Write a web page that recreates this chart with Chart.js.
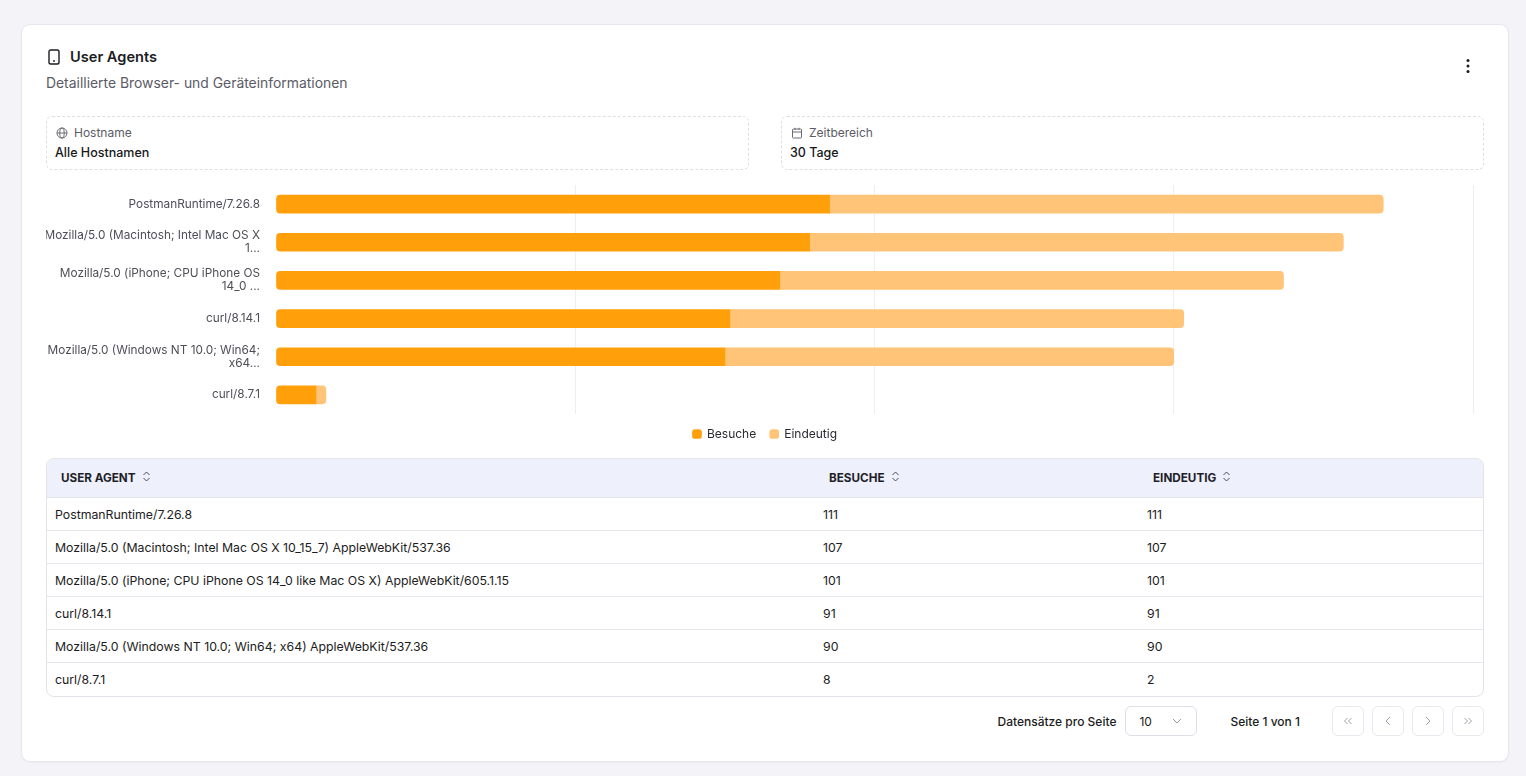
<!DOCTYPE html>
<html lang="de">
<head>
<meta charset="utf-8">
<title>User Agents</title>
<script src="https://cdn.jsdelivr.net/npm/chart.js@4.4.1/dist/chart.umd.min.js"></script>
<style>
  * { box-sizing: border-box; }
  html, body { margin: 0; padding: 0; }
  body {
    width: 1526px; height: 776px; overflow: hidden;
    background: #f4f4f8;
    font-family: Inter, "Noto Sans", sans-serif;
    color: #1c1c22;
  }
  .card {
    position: absolute; left: 22px; top: 25px; width: 1486px; height: 736px;
    background: #fff; border-radius: 8px;
    box-shadow: 0 0 0 1px #e6e6ee, 0 1px 3px rgba(20,20,40,0.06);
  }
  .abs { position: absolute; }
  .title { left: 48px; top: 22px; font-size: 14.6px; font-weight: 600; line-height: 20px; }
  .phone { left: 25px; top: 24px; }
  .subtitle { left: 24px; top: 48px; font-size: 13.9px; color: #5b5b66; line-height: 20px; }
  .kebab { left: 1440px; top: 32px; }
  .filter {
    top: 91px; width: 703px; height: 54px;
    border: 1px dashed #dedee6; border-radius: 6px;
  }
  .filter .lbl { position: absolute; left: 9px; top: 8px; font-size: 12px; color: #5b5b66; line-height: 16px; display: flex; align-items: center; gap: 6px; }
  .filter .val { position: absolute; left: 8px; top: 28px; font-size: 12.5px; font-weight: 500; color: #18181b; line-height: 16px; }
  .chartbox { left: 24px; top: 155px; width: 1438px; height: 270px; }
  table {
    position: absolute; left: 24px; top: 433px; width: 1438px;
    border-collapse: separate; border-spacing: 0;
    border: 1px solid #e3e3ea; border-radius: 8px; overflow: hidden;
    font-size: 12.3px; table-layout: fixed;
  }
  th {
    background: #eef0fb; height: 39px; text-align: left; padding: 0 14px;
    font-size: 11.7px; font-weight: 700; color: #1e1e28;
    border-bottom: 1px solid #e3e3ea;
  }
  th span.s { display: inline-block; vertical-align: middle; margin-left: 6px; margin-top: -2px; }
  td { height: 33px; padding: 0 8px; border-bottom: 1px solid #e6e6ec; color: #1c1c22; }
  tr:last-child td { border-bottom: none; }
  .pager { right: 24px; top: 681px; height: 30px; display: flex; align-items: center; font-size: 12px; font-weight: 500; }
  .sel {
    width: 72px; height: 30px; border: 1px solid #dedee6; border-radius: 6px;
    display: flex; align-items: center; justify-content: space-between; padding: 0 14px 0 13px;
    margin-left: 9px; margin-right: 33px; font-weight: 400;
  }
  .btn {
    width: 32px; height: 30px; border: 1px solid #e8e8ee; border-radius: 6px;
    display: flex; align-items: center; justify-content: center; margin-left: 8px;
  }
  .btn.first { margin-left: 32px; }
</style>
</head>
<body>
<div class="card">
  <svg class="abs phone" width="14" height="16" viewBox="0 0 14 16" fill="none" stroke="#1c1c22" stroke-width="1.4">
    <rect x="2" y="1" width="10" height="14" rx="1.8"/>
    <line x1="7" y1="12" x2="7.01" y2="12" stroke-width="1.8" stroke-linecap="round"/>
  </svg>
  <div class="abs title">User Agents</div>
  <div class="abs subtitle">Detaillierte Browser- und Geräteinformationen</div>
  <svg class="abs kebab" width="12" height="18" viewBox="0 0 12 18" fill="#1c1c22">
    <circle cx="6" cy="3.5" r="1.5"/><circle cx="6" cy="9" r="1.5"/><circle cx="6" cy="14.5" r="1.5"/>
  </svg>

  <div class="abs filter" style="left:24px;">
    <div class="lbl">
      <svg width="12" height="12" viewBox="0 0 12 12" fill="none" stroke="#6b6b76" stroke-width="1">
        <circle cx="6" cy="6" r="5"/><ellipse cx="6" cy="6" rx="2.2" ry="5"/><line x1="1" y1="6" x2="11" y2="6"/>
      </svg>Hostname</div>
    <div class="val">Alle Hostnamen</div>
  </div>
  <div class="abs filter" style="left:759px;">
    <div class="lbl">
      <svg width="12" height="12" viewBox="0 0 12 12" fill="none" stroke="#6b6b76" stroke-width="1">
        <rect x="1.5" y="2" width="9" height="9" rx="1"/><line x1="1.5" y1="5" x2="10.5" y2="5"/>
        <line x1="4" y1="0.8" x2="4" y2="3"/><line x1="8" y1="0.8" x2="8" y2="3"/>
      </svg>Zeitbereich</div>
    <div class="val">30 Tage</div>
  </div>

  <div class="abs chartbox"><canvas id="chart"></canvas></div>

  <table id="tbl">
    <colgroup><col style="width:768px"><col style="width:324px"><col></colgroup>
    <thead><tr id="head"></tr></thead>
    <tbody id="body"></tbody>
  </table>

  <div class="abs pager">
    <span>Datensätze pro Seite</span>
    <div class="sel"><span>10</span>
      <svg width="10" height="6" viewBox="0 0 10 6" fill="none" stroke="#9a9aa6" stroke-width="1"><polyline points="1,1 5,5 9,1"/></svg>
    </div>
    <span>Seite 1 von 1</span>
    <div class="btn first"><svg width="10" height="8" viewBox="0 0 10 8" fill="none" stroke="#a0a0aa" stroke-width="1"><polyline points="4.5,1 1.5,4 4.5,7"/><polyline points="8.5,1 5.5,4 8.5,7"/></svg></div>
    <div class="btn"><svg width="6" height="10" viewBox="0 0 6 10" fill="none" stroke="#a0a0aa" stroke-width="1"><polyline points="5,1 1,5 5,9"/></svg></div>
    <div class="btn"><svg width="6" height="10" viewBox="0 0 6 10" fill="none" stroke="#a0a0aa" stroke-width="1"><polyline points="1,1 5,5 1,9"/></svg></div>
    <div class="btn"><svg width="10" height="8" viewBox="0 0 10 8" fill="none" stroke="#a0a0aa" stroke-width="1"><polyline points="1.5,1 4.5,4 1.5,7"/><polyline points="5.5,1 8.5,4 5.5,7"/></svg></div>
  </div>
</div>

<script>
const userAgents = [
    'PostmanRuntime/7.26.8',
    'Mozilla/5.0 (Macintosh; Intel Mac OS X 10_15_7) AppleWebKit/537.36',
    'Mozilla/5.0 (iPhone; CPU iPhone OS 14_0 like Mac OS X) AppleWebKit/605.1.15',
    'curl/8.14.1',
    'Mozilla/5.0 (Windows NT 10.0; Win64; x64) AppleWebKit/537.36',
    'curl/8.7.1'
];
const besuche = [111, 107, 101, 91, 90, 8];
const eindeutig = [111, 107, 101, 91, 90, 2];
const seriesNames = ['Besuche', 'Eindeutig'];
const columnNames = ['User Agent', 'Besuche', 'Eindeutig'];
const xMax = 240;
const xStep = 60;

// shorten long agents like the app does, then wrap into lines
function shortLabel(s) {
    if (s.length > 40) s = s.slice(0, 40) + '...';
    const words = s.split(' ');
    const lines = [];
    let cur = '';
    words.forEach((w) => {
        const next = cur ? cur + ' ' + w : w;
        if (next.length > 38 && cur) {
            lines.push(cur);
            cur = w;
        } else {
            cur = next;
        }
    });
    if (cur) lines.push(cur);
    return lines.length > 1 ? lines : lines[0];
}

// table
const sortIcon = '<span class="s"><svg width="9" height="11" viewBox="0 0 9 11" fill="none" stroke="#4a4a55" stroke-width="1"><polyline points="1.5,4 4.5,1 7.5,4"/><polyline points="1.5,7 4.5,10 7.5,7"/></svg></span>';
document.getElementById('head').innerHTML = columnNames
    .map((c) => '<th>' + c.toUpperCase() + sortIcon + '</th>').join('');
document.getElementById('body').innerHTML = userAgents
    .map((ua, i) => '<tr><td>' + ua + '</td><td>' + besuche[i] + '</td><td>' + eindeutig[i] + '</td></tr>')
    .join('');

const data = {
    labels: userAgents.map(shortLabel),
    datasets: [{
        label: seriesNames[0],
        data: besuche,
        backgroundColor: '#ff9f0a',
        borderSkipped: false,
        borderRadius: { topLeft: 4, bottomLeft: 4, topRight: 0, bottomRight: 0 },
        barThickness: 18,
    }, {
        label: seriesNames[1],
        data: eindeutig,
        backgroundColor: '#ffc477',
        borderSkipped: false,
        borderRadius: { topLeft: 0, bottomLeft: 0, topRight: 4, bottomRight: 4 },
        barThickness: 18,
    }]
};

const rightPad = 11;

// legend stays centred on the whole canvas, not on the padded area
const fullWidthLegend = {
    id: 'fullWidthLegend',
    afterLayout(chart) {
        if (chart.legend) chart.legend.right += rightPad;
    }
};

const config = {
    type: 'bar',
    data: data,
    plugins: [fullWidthLegend],
    options: {
        indexAxis: 'y',
        responsive: true,
        maintainAspectRatio: false,
        animation: false,
        layout: { padding: { top: 5, right: rightPad, left: 0, bottom: 0 } },
        scales: {
            x: {
                stacked: true,
                min: 0,
                max: xMax,
                ticks: { display: false, stepSize: xStep },
                border: { display: false },
                grid: {
                    drawTicks: false,
                    color: (ctx) => ctx.tick && ctx.tick.value === 0 ? 'rgba(0,0,0,0)' : '#eeeef2',
                },
            },
            y: {
                stacked: true,
                border: { display: false },
                grid: { display: false, drawTicks: false },
                ticks: {
                    padding: 16,
                    color: '#4e4e58',
                    font: { family: 'Inter', size: 11.8, lineHeight: 1.1 },
                },
                afterFit: (axis) => {
                    axis.width = 230;
                    axis.paddingTop = 0;
                    axis.paddingBottom = 0;
                },
            },
        },
        plugins: {
            tooltip: { enabled: false },
            legend: {
                position: 'bottom',
                labels: {
                    usePointStyle: true,
                    pointStyle: 'rectRounded',
                    boxWidth: 8,
                    boxHeight: 8,
                    padding: 14,
                    color: '#2a2a33',
                    font: { family: 'Inter', size: 12 },
                },
            },
        },
    },
};

var myChart = new Chart(document.getElementById('chart').getContext('2d'), config);
</script>
</body>
</html>
